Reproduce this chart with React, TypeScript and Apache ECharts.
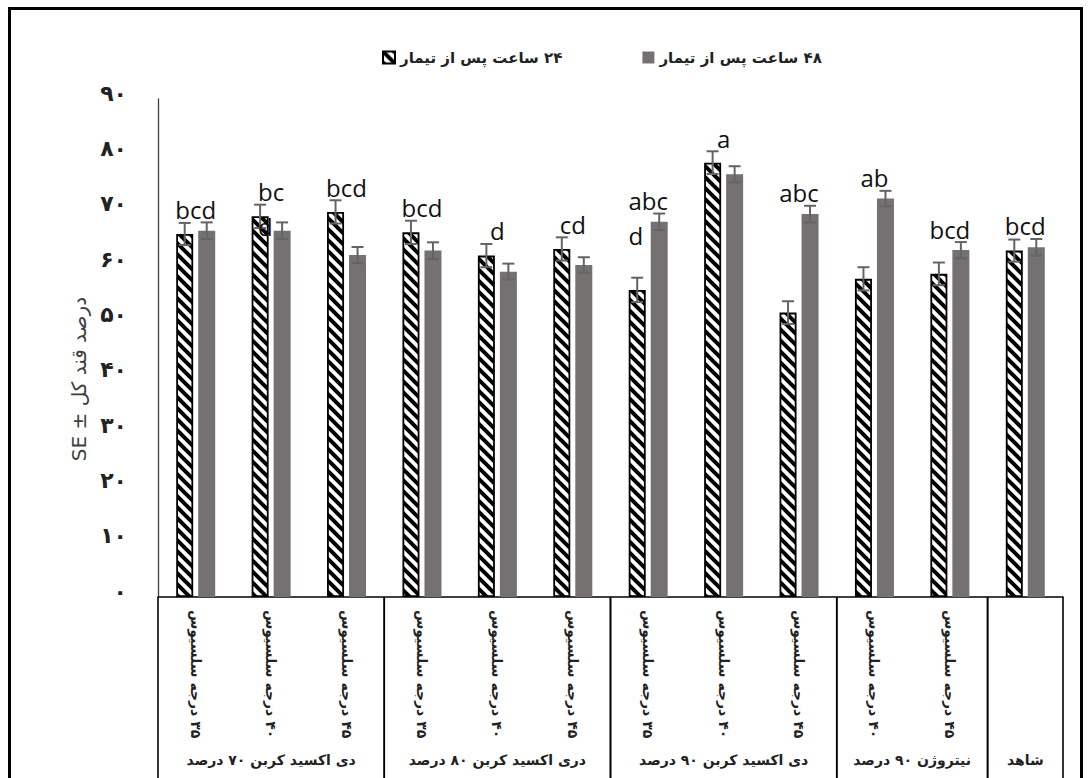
import React, { useEffect, useRef } from "react";
import * as echarts from "echarts";

// Treatment categories (temperature) along the x axis
const categories = [
  "۳۵ درجه سلسیوس",
  "۴۰ درجه سلسیوس",
  "۴۵ درجه سلسیوس",
  "۳۵ درجه سلسیوس",
  "۴۰ درجه سلسیوس",
  "۴۵ درجه سلسیوس",
  "۳۵ درجه سلسیوس",
  "۴۰ درجه سلسیوس",
  "۴۵ درجه سلسیوس",
  "۴۰ درجه سلسیوس",
  "۴۵ درجه سلسیوس",
  "",
];

// Atmosphere groups (second row of the category table)
const groupNames = [
  "دی اکسید کربن ۷۰ درصد",
  "دری اکسید کربن ۸۰ درصد",
  "دی اکسید کربن ۹۰ درصد",
  "نیتروژن ۹۰ درصد",
  "شاهد",
];
const groupSizes = [3, 3, 3, 2, 1];

const seriesNames = ["۲۴ ساعت پس از تیمار", "۴۸ ساعت پس از تیمار"];

// Total sugar (%) and standard errors
const values24 = [65.6, 68.8, 69.6, 65.9, 61.7, 62.9, 55.5, 78.5, 51.4, 57.5, 58.4, 62.6];
const values48 = [66.2, 66.2, 61.8, 62.6, 58.8, 60.0, 67.8, 76.4, 69.2, 72.0, 62.7, 63.2];
const se24 = [2.0, 2.1, 2.1, 2.1, 2.1, 2.1, 2.2, 2.05, 2.05, 2.1, 2.05, 2.0];
const se48 = [1.5, 1.5, 1.45, 1.5, 1.45, 1.4, 1.5, 1.45, 1.5, 1.4, 1.45, 1.5];

// Mean-comparison letters
const letters = ["bcd", "bc\nd", "bcd", "bcd", "d", "cd", "abc\nd", "a", "abc", "ab", "bcd", "bcd"];

const yTickLabels = ["۰", "۱۰", "۲۰", "۳۰", "۴۰", "۵۰", "۶۰", "۷۰", "۸۰", "۹۰"];

const RLE = "\u202B";
const PDF = "\u202C";
const rtl = (s: string) => (s ? RLE + s + PDF : s);

const FA_FONT = "DejaVu Sans";
const LETTER_FONT = "24px 'Open Sans'";
const BAR_W = 17;
const BAR_GAP = 5;
const HALF_STEP = (BAR_W + BAR_GAP) / 2;

function makeHatch(): string {
  const size = 11;
  const c = document.createElement("canvas");
  c.width = size;
  c.height = size;
  const ctx = c.getContext("2d")!;
  ctx.fillStyle = "#ffffff";
  ctx.fillRect(0, 0, size, size);
  ctx.strokeStyle = "#000000";
  ctx.lineWidth = 4;
  for (let k = -1; k <= 1; k++) {
    ctx.beginPath();
    ctx.moveTo(-3, -3 + k * size);
    ctx.lineTo(size + 3, size + 3 + k * size);
    ctx.stroke();
  }
  return c.toDataURL();
}

const measureCtx = document.createElement("canvas").getContext("2d")!;
function blockWidth(text: string): number {
  measureCtx.font = LETTER_FONT;
  return Math.max(...text.split("\n").map((l) => measureCtx.measureText(l).width));
}

function errorSeries(name: string, values: number[], se: number[], dx: number) {
  return {
    name,
    type: "custom",
    z: 4,
    silent: true,
    data: values.map((v, i) => [i, v, se[i]]),
    encode: { x: 0, y: 1 },
    renderItem: (params: any, api: any) => {
      const i = api.value(0);
      const v = api.value(1);
      const s = api.value(2);
      const top = api.coord([i, v + s]);
      const bot = api.coord([i, v - s]);
      const x = top[0] + dx;
      const style = { stroke: "#646464", lineWidth: 2 };
      return {
        type: "group",
        children: [
          { type: "line", shape: { x1: x, y1: top[1], x2: x, y2: bot[1] }, style },
          { type: "line", shape: { x1: x - 6, y1: top[1], x2: x + 6, y2: top[1] }, style },
          { type: "line", shape: { x1: x - 6, y1: bot[1], x2: x + 6, y2: bot[1] }, style },
        ],
      };
    },
  };
}

export default function App() {
  const ref = useRef<HTMLDivElement>(null);

  useEffect(() => {
    document.body.style.margin = "0";
    const chart = echarts.init(ref.current!, null, { renderer: "svg" });
    const hatch = { image: makeHatch(), repetition: "repeat", imageWidth: 11, imageHeight: 11 };

    const groupStarts: number[] = [];
    groupSizes.reduce((acc, n) => {
      groupStarts.push(acc);
      return acc + n;
    }, 0);

    chart.setOption({
      animation: false,
      backgroundColor: "#ffffff",
      graphic: [
        {
          type: "rect",
          shape: { x: 9.5, y: 8.5, width: 1072, height: 820 },
          style: { fill: "none", stroke: "#000", lineWidth: 3 },
          z: 100,
        },
      ],
      legend: {
        data: seriesNames,
        left: 377,
        top: 45,
        itemWidth: 12,
        itemHeight: 12,
        itemGap: 80,
        icon: "rect",
        formatter: (n: string) => rtl(n),
        textStyle: { fontFamily: FA_FONT, fontWeight: "bold", fontSize: 15, color: "#222" },
      },
      grid: { left: 158, right: 27, top: 99, bottom: 181, containLabel: false },
      xAxis: {
        type: "category",
        data: categories,
        axisLine: { lineStyle: { color: "#000", width: 1.5 } },
        axisTick: { show: false },
        axisLabel: {
          interval: 0,
          rotate: -90,
          margin: 13,
          fontFamily: FA_FONT,
          fontWeight: "bold",
          fontSize: 14,
          color: "#222",
          formatter: (s: string) => rtl(s),
        },
      },
      yAxis: {
        type: "value",
        min: 0,
        max: 90,
        interval: 10,
        name: "SE ± درصد قند کل",
        nameLocation: "middle",
        nameRotate: 90,
        nameGap: 66,
        nameTextStyle: {
          fontFamily: FA_FONT,
          fontSize: 20,
          color: "#404040",
          padding: [0, 62, 0, 0],
        },
        axisLine: { show: true, lineStyle: { color: "#404040", width: 1.3 } },
        axisTick: { show: false },
        splitLine: { show: false },
        axisLabel: {
          margin: 31,
          fontFamily: FA_FONT,
          fontWeight: "bold",
          fontSize: 22,
          color: "#222",
          verticalAlign: "bottom",
          lineHeight: 12,
          formatter: (v: number) => yTickLabels[Math.round(v / 10)],
        },
      },
      series: [
        {
          name: seriesNames[0],
          type: "bar",
          barWidth: BAR_W,
          barGap: (BAR_GAP / BAR_W) * 100 + "%",
          z: 2,
          itemStyle: { color: hatch, borderColor: "#000", borderWidth: 1.8 },
          data: values24,
        },
        {
          name: seriesNames[1],
          type: "bar",
          barWidth: BAR_W,
          z: 2,
          itemStyle: { color: "#767171" },
          data: values48,
        },
        errorSeries("err24", values24, se24, -HALF_STEP),
        errorSeries("err48", values48, se48, HALF_STEP),
        {
          name: "letters",
          type: "custom",
          z: 5,
          silent: true,
          data: values24.map((v, i) => [i, Math.max(v + se24[i], values48[i] + se48[i])]),
          encode: { x: 0, y: 1 },
          renderItem: (params: any, api: any) => {
            const p = api.coord([api.value(0), api.value(1)]);
            const txt = letters[params.dataIndex];
            const w = blockWidth(txt);
            return {
              type: "text",
              x: p[0] - w / 2,
              y: p[1] - 13 - 17.5,
              style: {
                text: txt,
                align: "left",
                verticalAlign: "top",
                lineHeight: 35,
                font: LETTER_FONT,
                fill: "#111",
              },
            };
          },
        },
        {
          name: "table",
          type: "custom",
          z: 3,
          silent: true,
          clip: false,
          data: groupStarts.map((s, i) => [s, 0, groupSizes[i]]),
          encode: { x: 0, y: 1 },
          renderItem: (params: any, api: any) => {
            const start = api.value(0);
            const n = api.value(2);
            const bw = api.size([1, 0])[0];
            const c = api.coord([start, 0]);
            const left = c[0] - bw / 2;
            const right = left + n * bw;
            const y0 = c[1];
            const style = { stroke: "#000", lineWidth: 1.6 };
            return {
              type: "group",
              children: [
                { type: "line", shape: { x1: left, y1: y0, x2: left, y2: 800 }, style },
                { type: "line", shape: { x1: right, y1: y0, x2: right, y2: 800 }, style },
                {
                  type: "text",
                  x: (left + right) / 2,
                  y: 760,
                  style: {
                    text: rtl(groupNames[params.dataIndex]),
                    align: "center",
                    verticalAlign: "middle",
                    fontFamily: FA_FONT,
                    fontWeight: "bold",
                    fontSize: 14,
                    fill: "#222",
                  },
                },
              ],
            };
          },
        },
      ],
    });

    return () => chart.dispose();
  }, []);

  return <div ref={ref} style={{ width: 1090, height: 778, overflow: "hidden" }} />;
}
